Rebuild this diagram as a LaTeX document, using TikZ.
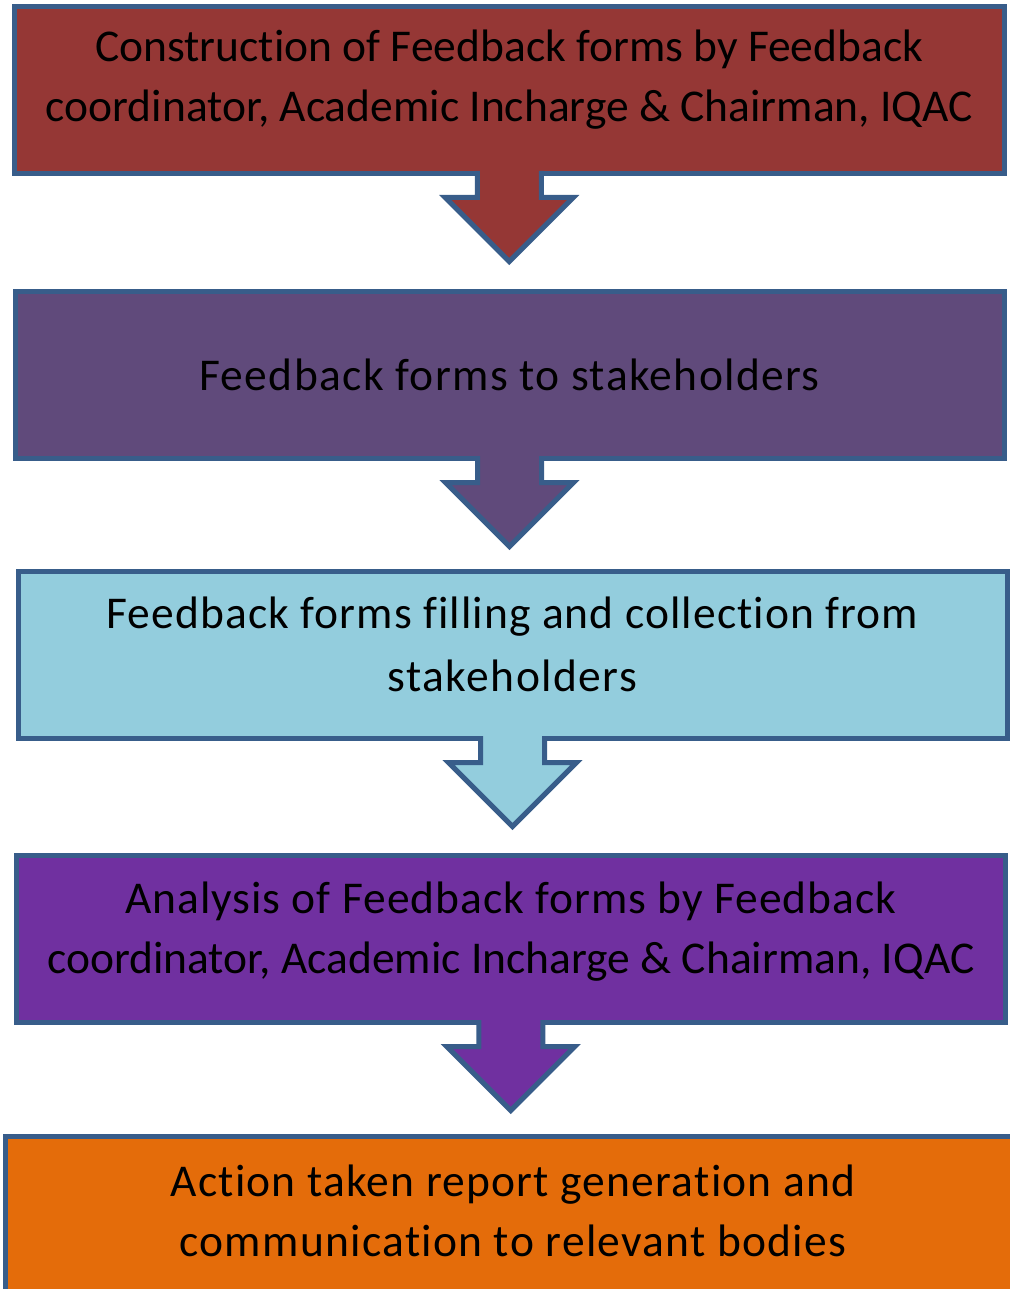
\documentclass[tikz,border=0pt]{standalone}
\usepackage{fontspec}
\setmainfont{Carlito}[Ligatures={NoCommon,NoRare}]
\usetikzlibrary{calc}
\definecolor{edgeblue}{HTML}{385D8A}
\definecolor{buildred}{HTML}{953735}
\definecolor{sendplum}{HTML}{604A7B}
\definecolor{collectblue}{HTML}{93CDDD}
\definecolor{analysepurple}{HTML}{7030A0}
\definecolor{actionorange}{HTML}{E46C0A}
\newcommand\spread[2]{{\addfontfeature{LetterSpace=#1}#2}}
\begin{document}
\begin{tikzpicture}[x=1pt, y=-1pt,
  box/.style={draw=edgeblue, line width=5pt, outer sep=0pt, inner sep=0pt, minimum height=167pt, align=center, font=\fontsize{45.5}{60}\selectfont},
  twoline/.style={text height=#1, text depth=8pt},
  flow/.style={draw=edgeblue, line width=5pt, line join=miter}]
\useasboundingbox (0,0) rectangle (1009,1289);

\node [box, twoline=71pt, fill=buildred, minimum width=989.5pt] (build) at (509.25,90) {Construction of Feedback forms by Feedback\\coordinator, Academic Incharge \& Chairman, IQAC};
\node [box, fill=sendplum, minimum width=989pt] (send) at (509.5,375) {\spread{3}{Feedback forms to stakeholders}};
\node [box, twoline=81pt, fill=collectblue, minimum width=989pt] (collect) at (512.5,655) {\spread{2.4}{Feedback forms filling and collection from}\\[3pt]\spread{3.2}{stakeholders}};
\node [box, twoline=77pt, fill=analysepurple, minimum width=989.5pt] (analyse) at (510.75,939) {\spread{2.2}{Analysis of Feedback forms by Feedback}\\coordinator, Academic Incharge \& Chairman, IQAC};
\node [box, twoline=81pt, fill=actionorange, minimum width=1015pt] (action) at (513,1220) {\spread{2.7}{Action taken report generation and}\\\spread{2.8}{communication to relevant bodies}};

\filldraw [flow, fill=buildred] ($(build.south)+(-32,-2.5)$) -- ++(0,26.5) -- ++(-32,0) -- ++(64,64) -- ++(64,-64) -- ++(-32,0) -- ++(0,-26.5);
\filldraw [flow, fill=sendplum] ($(send.south)+(-32,-2.5)$) -- ++(0,26.5) -- ++(-32,0) -- ++(64,64) -- ++(64,-64) -- ++(-32,0) -- ++(0,-26.5);
\filldraw [flow, fill=collectblue] ($(collect.south)+(-32,-2.5)$) -- ++(0,26.5) -- ++(-32,0) -- ++(64,64) -- ++(64,-64) -- ++(-32,0) -- ++(0,-26.5);
\filldraw [flow, fill=analysepurple] ($(analyse.south)+(-32,-2.5)$) -- ++(0,26.5) -- ++(-32,0) -- ++(64,64) -- ++(64,-64) -- ++(-32,0) -- ++(0,-26.5);

\end{tikzpicture}
\end{document}
